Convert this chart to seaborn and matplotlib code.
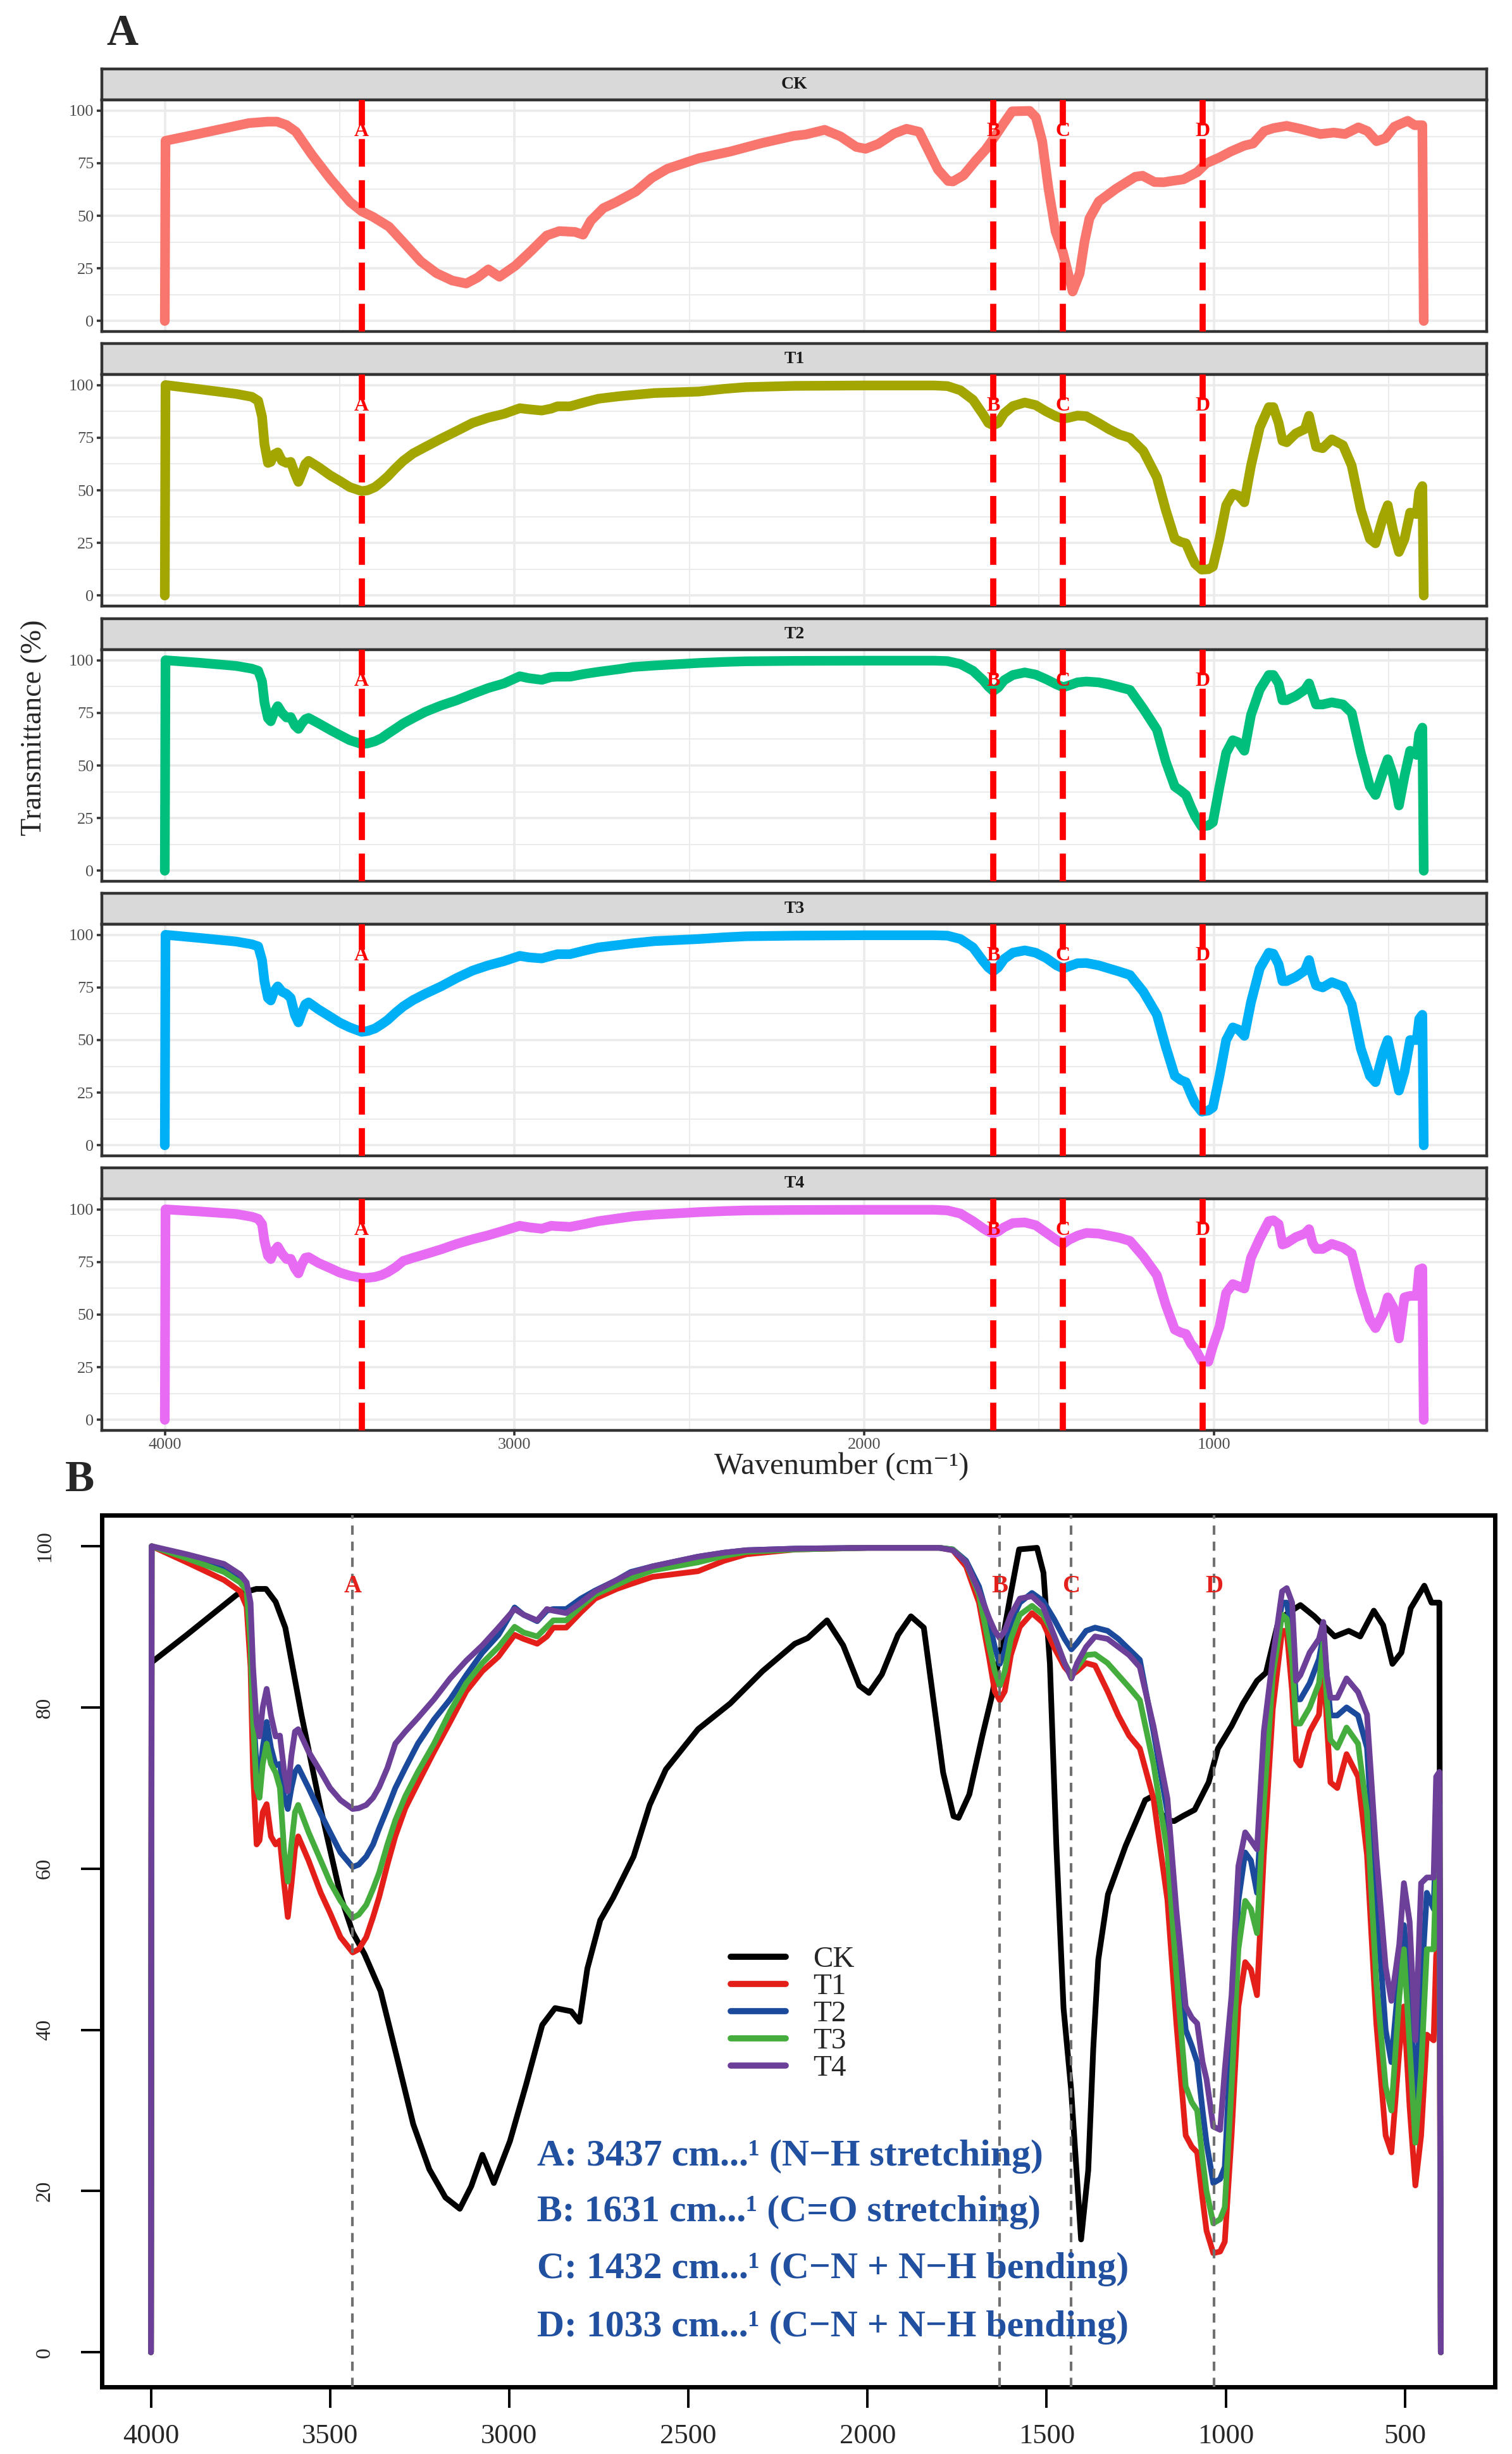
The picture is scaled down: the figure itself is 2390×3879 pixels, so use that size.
import matplotlib
matplotlib.use("Agg")
import matplotlib.pyplot as plt
from matplotlib.lines import Line2D
import seaborn as sns
import pandas as pd

# ---- data ----
samples = ["CK", "T1", "T2", "T3", "T4"]
peak_names = ["A", "B", "C", "D"]
peak_wn = [3437, 1631, 1432, 1033]
peak_notes = ["A: 3437 cm...¹ (N−H stretching)",
              "B: 1631 cm...¹ (C=O stretching)",
              "C: 1432 cm...¹ (C−N + N−H bending)",
              "D: 1033 cm...¹ (C−N + N−H bending)"]

ck_wn = [4000, 3998, 3900, 3760, 3706, 3679, 3652, 3625, 3580, 3526,
         3470, 3437, 3404, 3359, 3314, 3268, 3223, 3178, 3138, 3106,
         3075, 3043, 2998, 2953, 2908, 2872, 2827, 2804, 2782, 2746,
         2710, 2653, 2608, 2563, 2473, 2383, 2293, 2203, 2167, 2113,
         2068, 2023, 1996, 1960, 1915, 1879, 1843, 1816, 1789, 1760,
         1746, 1716, 1680, 1653, 1626, 1599, 1577, 1527, 1509, 1491,
         1473, 1453, 1432, 1404, 1384, 1370, 1356, 1329, 1280, 1225,
         1204, 1170, 1144, 1121, 1087, 1048, 1022, 984, 952, 913,
         888, 856, 830, 792, 753, 696, 657, 625, 587, 561,
         535, 510, 484, 446, 426, 404, 400]
ck_t = [0, 85.6, 89, 94, 94.7, 94.7, 93.1, 89.9, 79.1, 67.4,
        56.5, 52.1, 49.4, 44.8, 36.7, 28.3, 22.7, 19.2, 17.8, 20.6,
        24.5, 21.0, 26.2, 33.2, 40.6, 42.7, 42.3, 41.0, 47.6, 53.6,
        56.4, 61.5, 67.9, 72.3, 77.3, 80.5, 84.5, 87.9, 88.6, 90.8,
        87.7, 82.7, 81.8, 84.1, 89.0, 91.3, 89.9, 80.9, 71.9, 66.5,
        66.3, 69.2, 76.4, 81.4, 87.7, 94.4, 99.6, 99.8, 96.7, 85.4,
        62.8, 42.7, 32.7, 14.0, 22.6, 37.7, 48.7, 56.8, 62.8, 68.5,
        69.0, 66.0, 65.9, 66.5, 67.3, 70.7, 74.9, 77.7, 80.5, 83.3,
        84.3, 90.2, 91.6, 92.7, 91.3, 88.8, 89.5, 88.8, 92.0, 90.2,
        85.4, 86.8, 92.3, 95.1, 93.0, 93.0, 0]

# shared wavenumber grid for the treated samples
t_wn = [4000, 3998, 3900, 3796, 3751, 3733, 3722, 3715, 3705, 3697,
        3688, 3677, 3665, 3652, 3640, 3628, 3618, 3608, 3598, 3589,
        3560, 3526, 3500, 3471, 3437, 3420, 3399, 3380, 3363, 3340,
        3318, 3290, 3255, 3210, 3165, 3120, 3075, 3030, 2985, 2960,
        2922, 2895, 2877, 2841, 2800, 2760, 2700, 2661, 2600, 2473,
        2400, 2338, 2200, 2000, 1800, 1762, 1725, 1689, 1660, 1645,
        1631, 1617, 1600, 1575, 1541, 1510, 1480, 1450, 1431, 1415,
        1390, 1365, 1330, 1300, 1270, 1240, 1202, 1163, 1138, 1112,
        1095, 1080, 1065, 1054, 1035, 1016, 1003, 984, 965, 946,
        930, 913, 894, 869, 843, 830, 815, 804, 792, 766,
        740, 728, 718, 708, 689, 663, 631, 606, 580, 554,
        538, 516, 503, 487, 471, 455, 439, 420, 413, 404,
        400]
t1_t = [0, 100, 98, 95.8, 94.4, 92.5, 85, 72, 63, 63.5,
        67, 68, 64, 63, 63.5, 58, 54, 58, 62.5, 64,
        61, 57, 54.5, 51.5, 49.6, 50, 51.5, 54, 56.5, 60.5,
        64, 67.5, 70.6, 74.5, 78.2, 82, 84.5, 86.3, 89, 88.5,
        87.9, 88.8, 89.9, 89.9, 91.8, 93.5, 94.7, 95.3, 96.2, 96.9,
        98.2, 99, 99.6, 99.8, 99.8, 99.5, 97.5, 93, 86, 82,
        80.9, 82, 86.5, 90, 91.7, 90.5, 87.5, 85, 84, 84.5,
        85.5, 85.2, 82, 79, 76.5, 74.9, 68.7, 56.1, 40.8, 26.9,
        25.5, 24.8, 19, 15.1, 12.3, 12.5, 13.7, 26.9, 42.9, 48.4,
        47.5, 44.3, 61.7, 79.8, 89.5, 89.5, 82, 73.5, 72.8, 77,
        79.1, 85.4, 78, 70.7, 70, 74.2, 71.4, 61.7, 40.8, 26.9,
        24.8, 37.3, 42.9, 30.4, 20.7, 26.9, 39.4, 38.7, 49.2, 52,
        0]
t2_t = [0, 100, 98.8, 97.3, 96, 95, 90, 80, 72.5, 71,
        75, 78.2, 75, 72.8, 73, 69, 67.4, 70, 72, 72.6,
        70, 66.8, 64.5, 62, 60.2, 60.5, 61.5, 63, 65, 67.5,
        70, 72.5, 75.5, 78.5, 81, 84, 86.8, 89, 92.4, 91.5,
        90.7, 92, 92.2, 92.2, 93.5, 94.5, 95.8, 96.8, 97.5, 98.7,
        99.2, 99.5, 99.7, 99.8, 99.8, 99.6, 98.2, 95, 90.5, 87.5,
        85.4, 87, 90.5, 93, 94.2, 93.2, 91, 88.5, 87.2, 88,
        89.5, 89.9, 89.5, 88.5, 87.2, 85.9, 77, 67, 52, 40,
        38, 36, 30, 26, 21, 21.5, 23, 40, 56, 62,
        61, 57, 74, 86, 93, 93, 89, 81, 81, 83,
        86, 89, 84, 79, 79, 80, 79, 75, 56, 40,
        36, 47, 53, 45, 31, 45, 57, 55, 65, 68,
        0]
t3_t = [0, 100, 98.5, 96.8, 95.5, 94.5, 88, 78, 70, 68.8,
        73, 75.5, 73, 71.9, 70, 62, 58.4, 63, 67, 67.9,
        64.5, 61, 58.3, 56, 53.9, 54.3, 55.5, 57.5, 59.5, 63,
        66, 69, 72, 75.5, 79.5, 83, 85.5, 87.5, 90, 89.3,
        88.8, 90, 90.8, 90.8, 92.5, 94, 95.2, 96, 97, 98,
        98.8, 99.3, 99.6, 99.8, 99.8, 99.6, 98, 94, 87.5, 84.5,
        82.7, 84.5, 88.5, 91.5, 92.6, 91.5, 89, 85.5, 84, 85,
        86.5, 86.6, 85.5, 84, 82.5, 80.9, 73, 62, 47, 33,
        31, 30, 24, 20, 16, 16.5, 18, 33, 50, 56,
        55, 52, 68, 84, 91.5, 91, 86, 78, 78, 80,
        83, 88, 81, 76, 75, 77.5, 75.5, 67, 46, 33,
        30, 44, 50, 38, 26, 35, 50, 50, 60, 62,
        0]
t4_t = [0, 100, 99, 97.8, 96.5, 95.5, 93, 85, 78, 76.4,
        80, 82.3, 79, 76.4, 76.5, 72, 69.6, 74, 77, 77.3,
        74.5, 72, 70, 68.5, 67.4, 67.5, 67.9, 68.8, 70.1, 72.5,
        75.5, 77, 78.7, 81, 83.6, 85.8, 87.7, 89.9, 92.2, 91.5,
        90.8, 92.2, 92, 91.7, 93, 94.4, 95.8, 96.7, 97.5, 98.7,
        99.2, 99.5, 99.7, 99.8, 99.8, 99.5, 98, 94.4, 91, 89.5,
        88.6, 89.5, 91.5, 93.5, 93.8, 92.5, 89, 85.5, 83.6, 85.5,
        87.5, 88.8, 88.5, 87.5, 86.5, 85, 77.7, 68.7, 54.8, 42.9,
        41.5, 40.8, 36, 33.9, 28, 27.6, 35, 44.3, 60.3, 64.5,
        63.5, 62.4, 77, 86.1, 94.4, 94.8, 93, 83.3, 84, 86.8,
        88.5, 90.6, 84, 81.2, 81.2, 83.6, 81.9, 79.1, 61.7, 47.8,
        43.6, 50.6, 58.2, 53.4, 38.7, 58.2, 58.9, 58.9, 71.4, 72,
        0]

frames = []
for name, wn, tr in [("CK", ck_wn, ck_t), ("T1", t_wn, t1_t), ("T2", t_wn, t2_t),
                     ("T3", t_wn, t3_t), ("T4", t_wn, t4_t)]:
    frames.append(pd.DataFrame({"wavenumber": wn, "transmittance": tr, "sample": name}))
df = pd.concat(frames, ignore_index=True)

# ---- style ----
sns.set_style("white")
plt.rcParams["font.family"] = ["Liberation Serif", "DejaVu Serif"]
plt.rcParams["lines.solid_joinstyle"] = "round"

W, H = 2390, 3879
fig = plt.figure(figsize=(W / 100, H / 100), dpi=100)


def fbox(left, top, right, bottom):
    # pixel box -> figure fraction rect
    return [left / W, 1 - bottom / H, (right - left) / W, (bottom - top) / H]


gg_cols = ["#F8766D", "#A3A500", "#00BF7D", "#00B0F6", "#E76BF3"]
b_cols = ["#000000", "#E41F1A", "#1B4A9C", "#45AD3D", "#6C3F98"]

# ---- panel A: one facet per sample ----
facet_tops = [109, 543, 978, 1412, 1846]
strip_h, panel_h = 49, 366
xl, xr = 161, 2350

for i, name in enumerate(samples):
    top = facet_tops[i]
    strip = fig.add_axes(fbox(xl, top, xr, top + strip_h))
    strip.set_facecolor("#D9D9D9")
    strip.set_xticks([])
    strip.set_yticks([])
    for sp in strip.spines.values():
        sp.set_color("#333333")
        sp.set_linewidth(3.2)
    strip.text(0.5, 0.5, name, ha="center", va="center", fontsize=20,
               fontweight="bold", color="#1A1A1A", transform=strip.transAxes)

    ax = fig.add_axes(fbox(xl, top + strip_h, xr, top + strip_h + panel_h))
    sub = df[df["sample"] == name]
    sns.lineplot(data=sub, x="wavenumber", y="transmittance", color=gg_cols[i],
                 lw=11, estimator=None, sort=False, legend=False, ax=ax)
    ax.set_xlim(4180, 220)
    ax.set_ylim(-5, 105)
    ax.set_xticks([4000, 3000, 2000, 1000])
    ax.set_xticks([3500, 2500, 1500, 500], minor=True)
    ax.set_yticks([0, 25, 50, 75, 100])
    ax.set_yticks([12.5, 37.5, 62.5, 87.5], minor=True)
    ax.grid(which="major", color="#EBEBEB", lw=2.6)
    ax.grid(which="minor", color="#EBEBEB", lw=1.4)
    ax.set_axisbelow(True)
    for sp in ax.spines.values():
        sp.set_color("#333333")
        sp.set_linewidth(3.2)
    ax.tick_params(which="major", length=6, width=2.6, color="#333333",
                   labelcolor="#4D4D4D", labelsize=19, pad=3,
                   left=True, bottom=True)
    ax.tick_params(which="minor", length=0)
    if i < len(samples) - 1:
        ax.tick_params(axis="x", labelbottom=False, bottom=False)
    ax.set_xlabel("")
    ax.set_ylabel("")
    for lab, wn in zip(peak_names, peak_wn):
        ax.axvline(wn, color="#FF0000", lw=7, ls=(0, (4.5, 2.2)), zorder=4)
        ax.text(wn, 90, lab, color="#FF0000", fontsize=23, fontweight="bold",
                ha="center", va="center", zorder=5)

fig.text(54 / W, 1 - 1150 / H, "Transmittance (%)", rotation=90, fontsize=33,
         ha="center", va="center")
fig.text(1330 / W, 1 - 2318 / H, "Wavenumber (cm⁻¹)", fontsize=35,
         ha="center", va="center")
fig.text(193 / W, 1 - 54 / H, "A", fontsize=50, fontweight="bold",
         ha="center", va="center")
fig.text(126 / W, 1 - 2340 / H, "B", fontsize=50, fontweight="bold",
         ha="center", va="center")

# ---- panel B: overlay ----
axb = fig.add_axes(fbox(161, 2395, 2363, 3773))
sns.lineplot(data=df, x="wavenumber", y="transmittance", hue="sample",
             hue_order=samples, palette=b_cols, lw=6.5, estimator=None,
             sort=False, legend=False, ax=axb)
axb.set_xlim(4137, 249)
axb.set_ylim(-4.3, 103.85)
axb.set_xticks([4000, 3500, 3000, 2500, 2000, 1500, 1000, 500])
axb.set_yticks([0, 20, 40, 60, 80, 100])
axb.set_xlabel("")
axb.set_ylabel("")
for sp in axb.spines.values():
    sp.set_color("black")
    sp.set_linewidth(5)
axb.tick_params(axis="both", direction="out", length=24, width=2.8,
                color="black", left=True, bottom=True)
axb.tick_params(axis="x", labelsize=32, pad=18)
axb.tick_params(axis="y", labelsize=24, pad=30, labelrotation=90)
for t in axb.get_yticklabels():
    t.set_va("center")

for lab, wn in zip(peak_names, peak_wn):
    axb.axvline(wn, color="#707070", lw=3, ls=(0, (3.5, 2.6)), zorder=6)
    axb.text(wn, 95, lab, color="#E3201B", fontsize=28, fontweight="bold",
             ha="center", va="center", zorder=7)

note_y = [24.3, 17.4, 10.3, 3.1]
for note, y in zip(peak_notes, note_y):
    axb.text(2922, y, note, color="#2150A0", fontsize=43, fontweight="bold",
             ha="left", va="center", zorder=8)

handles = [Line2D([], [], color=c, lw=7) for c in b_cols]
axb.legend(handles, samples, loc="upper left",
           bbox_to_anchor=(1155 / W, 1 - 3076 / H), bbox_transform=fig.transFigure,
           frameon=False, fontsize=34, handlelength=1.85, handletextpad=0.9,
           labelspacing=0.0, borderpad=0, borderaxespad=0)

fig.savefig("out.png", dpi=100)
